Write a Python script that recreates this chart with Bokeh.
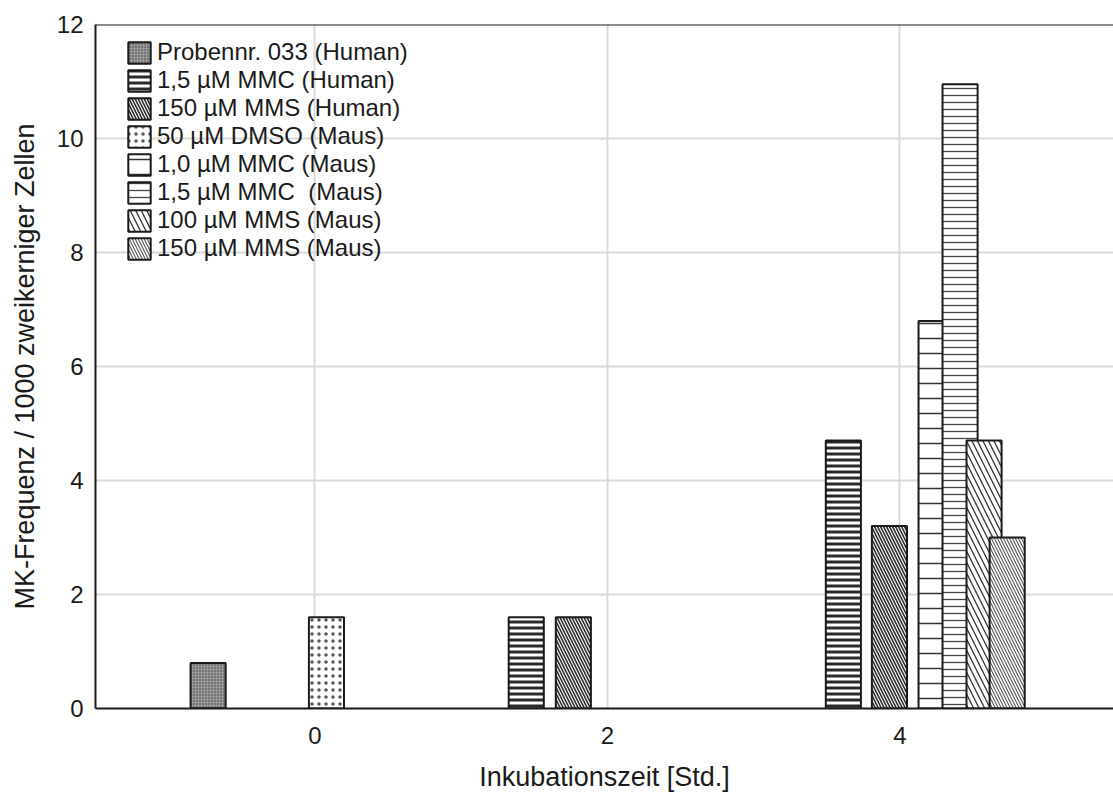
from bokeh.plotting import figure
from bokeh.models import FixedTicker, Span, Legend, LegendItem, Range1d, ColumnDataSource
from bokeh.embed import file_html
from bokeh.resources import INLINE

# ---- data ----
series_names = [
    "Probennr. 033 (Human)",
    "1,5 µM MMC (Human)",
    "150 µM MMS (Human)",
    "50 µM DMSO (Maus)",
    "1,0 µM MMC (Maus)",
    "1,5 µM MMC  (Maus)",
    "100 µM MMS (Maus)",
    "150 µM MMS (Maus)",
]
# incubation time [h] of each bar, per series
probennr_hours = [0]
mmc15_human_hours = [2, 4]
mms150_human_hours = [2, 4]
dmso50_maus_hours = [0]
mmc10_maus_hours = [4]
mmc15_maus_hours = [4]
mms100_maus_hours = [4]
mms150_maus_hours = [4]
# MK frequency per 1000 binucleated cells
probennr_values = [0.8]
mmc15_human_values = [1.6, 4.7]
mms150_human_values = [1.6, 3.2]
dmso50_maus_values = [1.6]
mmc10_maus_values = [6.8]
mmc15_maus_values = [10.95]
mms100_maus_values = [4.7]
mms150_maus_values = [3.0]

y_ticks = [0, 2, 4, 6, 8, 10, 12]
x_ticks = [0, 2, 4]

hours = [probennr_hours, mmc15_human_hours, mms150_human_hours, dmso50_maus_hours,
         mmc10_maus_hours, mmc15_maus_hours, mms100_maus_hours, mms150_maus_hours]
values = [probennr_values, mmc15_human_values, mms150_human_values, dmso50_maus_values,
          mmc10_maus_values, mmc15_maus_values, mms100_maus_values, mms150_maus_values]

# ---- layout: horizontal dodge of each bar from its hour (data units) ----
dodge = [[-0.73], [-0.555, -0.387], [-0.233, -0.072], [0.079],
         [0.247], [0.411], [0.575], [0.733]]
BAR_W = 0.24

styles = [
    dict(fill_color="#9a9a9a", hatch_pattern="dot", hatch_scale=3, hatch_weight=1.2, hatch_color="#3a3a3a"),
    dict(fill_color="white", hatch_pattern="horizontal_line", hatch_scale=6, hatch_weight=3, hatch_color="#2a2a2a"),
    dict(fill_color="white", hatch_pattern="left_diagonal_line", hatch_scale=6, hatch_weight=1.6, hatch_color="#2a2a2a"),
    dict(fill_color="white", hatch_pattern="dot", hatch_scale=7, hatch_weight=0.9, hatch_color="#555555"),
    dict(fill_color="white", hatch_pattern="horizontal_line", hatch_scale=15, hatch_weight=1.5, hatch_color="#333333"),
    dict(fill_color="white", hatch_pattern="horizontal_line", hatch_scale=7, hatch_weight=1.3, hatch_color="#444444"),
    dict(fill_color="white", hatch_pattern="left_diagonal_line", hatch_scale=11, hatch_weight=1.3, hatch_color="#333333"),
    dict(fill_color="white", hatch_pattern="left_diagonal_line", hatch_scale=6, hatch_weight=1.1, hatch_color="#555555"),
]

FONT = "Liberation Sans"

p = figure(width=1113, height=796, output_backend="svg", toolbar_location=None,
           x_range=Range1d(-1.5, 5.46), y_range=Range1d(0, 12),
           min_border_left=95, min_border_right=0, min_border_top=24, min_border_bottom=88)
p.outline_line_color = None
p.background_fill_color = "white"
p.border_fill_color = "white"

items = []
for name, hs, vs, dd, st in zip(series_names, hours, values, dodge, styles):
    xs = [h + d for h, d in zip(hs, dd)]
    src = ColumnDataSource(dict(x=xs, top=vs))
    r = p.vbar(x="x", top="top", bottom=0, width=BAR_W, source=src,
               line_color="#1a1a1a", line_width=2, **st)
    items.append(LegendItem(label=name, renderers=[r]))

legend = Legend(items=items, location=(30, 446), background_fill_alpha=0,
                border_line_alpha=0, label_text_font=FONT, label_text_font_size="24px",
                label_text_color="#1a1a1a", glyph_width=28, glyph_height=27,
                label_standoff=4, spacing=0, padding=0, margin=0, label_height=27)
p.add_layout(legend)

# top frame line
p.add_layout(Span(location=12, dimension="width", line_color="#1a1a1a", line_width=2))

for ax in (p.xaxis[0], p.yaxis[0]):
    ax.axis_line_color = "#1a1a1a"
    ax.axis_line_width = 2
    ax.major_tick_in = 0
    ax.major_tick_out = 0
    ax.minor_tick_in = 0
    ax.minor_tick_out = 0
    ax.major_label_text_font = FONT
    ax.major_label_text_font_size = "24px"
    ax.major_label_text_color = "#1a1a1a"
    ax.axis_label_text_font = FONT
    ax.axis_label_text_font_size = "27px"
    ax.axis_label_text_font_style = "normal"
    ax.axis_label_text_color = "#1a1a1a"

p.xaxis.ticker = FixedTicker(ticks=x_ticks)
p.yaxis.ticker = FixedTicker(ticks=y_ticks)
p.xaxis.axis_label = "Inkubationszeit [Std.]"
p.yaxis.axis_label = "MK-Frequenz / 1000 zweikerniger Zellen"
p.xaxis.major_label_standoff = 18
p.yaxis.major_label_standoff = 12
p.xaxis.axis_label_standoff = 15
p.yaxis.axis_label_standoff = 14

p.xgrid.ticker = FixedTicker(ticks=x_ticks)
p.ygrid.ticker = FixedTicker(ticks=y_ticks)
p.grid.grid_line_color = "#dadada"
p.grid.grid_line_width = 2

open("out.html", "w").write(file_html(p, INLINE))
